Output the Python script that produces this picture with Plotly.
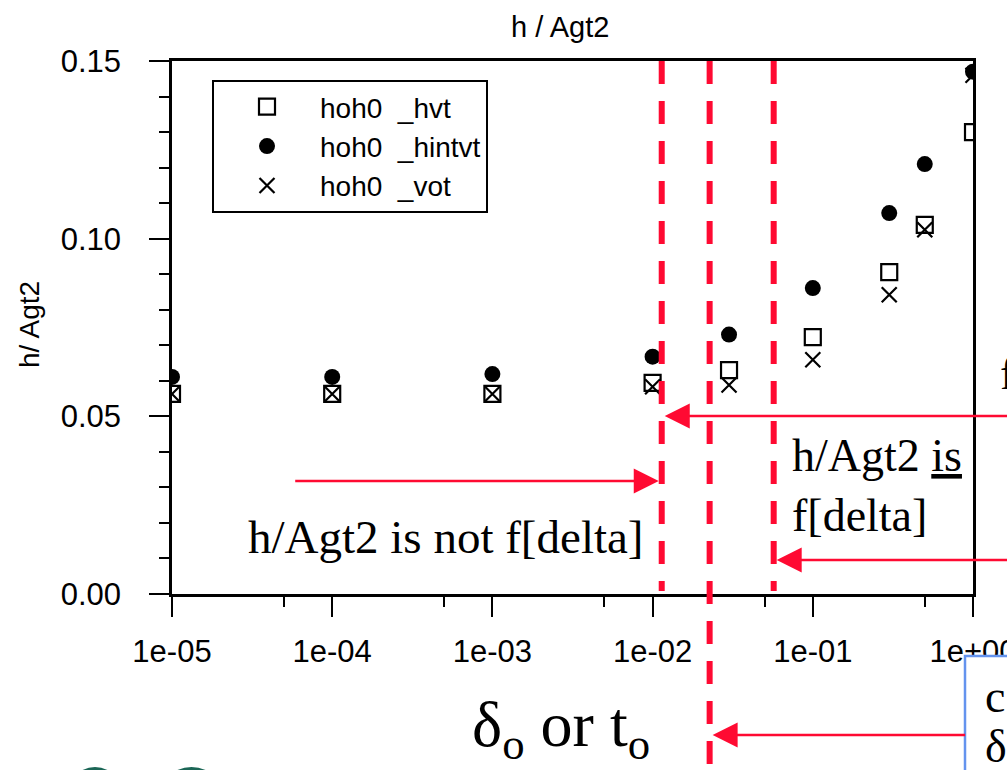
import math
import plotly.graph_objects as go

# ---------------- data ----------------
x_vals = [1e-5, 1e-4, 1e-3, 1e-2, 0.03, 0.1, 0.3, 0.5, 1.0]
hvt = [0.0563, 0.0563, 0.0563, 0.0594, 0.0630, 0.0723, 0.0906, 0.1039, 0.1300]
hintvt = [0.0611, 0.0611, 0.0619, 0.0668, 0.0730, 0.0861, 0.1072, 0.1210, 0.1470]
vot = [0.0563, 0.0563, 0.0563, 0.0583, 0.0588, 0.0659, 0.0842, 0.1025, 0.1460]
series_names = ["hoh0\u00a0 _hvt", "hoh0\u00a0 _hintvt", "hoh0\u00a0 _vot"]

x_tickvals = [1e-5, 1e-4, 1e-3, 1e-2, 1e-1, 1.0]
x_ticktext = ["1e-05", "1e-04", "1e-03", "1e-02", "1e-01", "1e+00"]
x_minor = [5e-5, 5e-4, 5e-3, 5e-2, 0.5]
y_tickvals = [0.0, 0.05, 0.10, 0.15]
y_ticktext = ["0.00", "0.05", "0.10", "0.15"]

delta_lines = [0.0114, 0.0227, 0.057]     # red dashed markers (x)
arrow_y = [0.0501, 0.0318, 0.0096]        # arrow heights (y, data units)

# ---------------- layout geometry ----------------
W, H = 1007, 770
L, R, T, B = 172, 973, 61, 594


def px(xp):
    return (xp - L) / (R - L)


def py(yp):
    return (B - yp) / (B - T)


RED = "#FF0A32"
BLUE = "#6493EE"
SANS = "Liberation Sans, Arial, sans-serif"
SERIF = "Liberation Serif, Times New Roman, serif"

fig = go.Figure()
fig.add_trace(go.Scatter(
    x=x_vals, y=hvt, mode="markers", name=series_names[0],
    marker=dict(symbol="square-open", size=16, color="black", line=dict(width=2.2, color="black"))))
fig.add_trace(go.Scatter(
    x=x_vals, y=hintvt, mode="markers", name=series_names[1],
    marker=dict(symbol="circle", size=16, color="black", line=dict(width=0))))
fig.add_trace(go.Scatter(
    x=x_vals, y=vot, mode="markers", name=series_names[2],
    marker=dict(symbol="x-thin-open", size=15, color="black", line=dict(width=2.2, color="black"))))

shapes = []
# dashed vertical lines
line_bottoms = [py(591), py(780), py(591)]
for xv, yb in zip(delta_lines, line_bottoms):
    shapes.append(dict(type="line", xref="x", yref="paper", x0=xv, x1=xv, y0=1.0, y1=yb,
                       line=dict(color=RED, width=6, dash="23px,17px"), layer="above"))
# blue text box (cropped)
shapes.append(dict(type="rect", xref="paper", yref="paper", x0=px(965), x1=px(1030),
                   y0=py(656), y1=py(800), line=dict(color=BLUE, width=2.5),
                   fillcolor="white", layer="above"))
# cropped picture fragments at the bottom left
for (a, b) in [(76, 114), (170, 213)]:
    m = (a + b) / 2
    shapes.append(dict(type="path", xref="paper", yref="paper",
                       path=f"M {px(a)},{py(774)} Q {px(m)},{py(760)} {px(b)},{py(774)} Z",
                       fillcolor="#1B6656", line=dict(width=0), layer="above"))

annotations = []
arrow_common = dict(text="", showarrow=True, arrowhead=2, arrowsize=2.0, arrowwidth=2.5,
                    arrowcolor=RED, standoff=0, startstandoff=0)
annotations.append(dict(x=math.log10(delta_lines[0]), y=arrow_y[0], xref="x", yref="y",
                        xshift=3, ax=400, ay=0, **arrow_common))
annotations.append(dict(x=math.log10(delta_lines[0]), y=arrow_y[1], xref="x", yref="y",
                        xshift=-3, ax=-365, ay=0, **arrow_common))
annotations.append(dict(x=math.log10(delta_lines[2]), y=arrow_y[2], xref="x", yref="y",
                        xshift=3, ax=300, ay=0, **arrow_common))
annotations.append(dict(x=math.log10(delta_lines[1]), y=py(735), xref="x", yref="paper",
                        xshift=3, ax=254, ay=0, **arrow_common))

# texts
annotations.append(dict(text="h/Agt2 is not f[delta]", xref="paper", yref="paper",
                        x=px(246), y=py(537), xanchor="left", yanchor="middle",
                        showarrow=False, font=dict(family=SERIF, size=47, color="black")))
annotations.append(dict(text='h/Agt2 <span style="text-decoration:underline">is</span><br>f[delta]',
                        xref="paper", yref="paper", x=px(790), y=py(485),
                        xanchor="left", yanchor="middle", align="left",
                        showarrow=False, font=dict(family=SERIF, size=46, color="black")))
annotations.append(dict(text="δ<sub>o</sub> or t<sub>o</sub>", xref="paper", yref="paper",
                        x=px(470), y=py(729), xanchor="left", yanchor="middle",
                        showarrow=False, font=dict(family=SERIF, size=64, color="black")))
annotations.append(dict(text="f", xref="paper", yref="paper", x=px(998), y=py(373),
                        xanchor="left", yanchor="middle", showarrow=False,
                        font=dict(family=SERIF, size=46, color="black")))
annotations.append(dict(text="c", xref="paper", yref="paper", x=px(983), y=py(696),
                        xanchor="left", yanchor="middle", showarrow=False,
                        font=dict(family=SERIF, size=46, color="black")))
annotations.append(dict(text="δ", xref="paper", yref="paper", x=px(983), y=py(746),
                        xanchor="left", yanchor="middle", showarrow=False,
                        font=dict(family=SERIF, size=46, color="black")))
# title and y-axis title
annotations.append(dict(text="h / Agt2", xref="paper", yref="paper", x=px(560), y=py(27),
                        xanchor="center", yanchor="middle", showarrow=False,
                        font=dict(family=SANS, size=29, color="black")))
annotations.append(dict(text="h/ Agt2", xref="paper", yref="paper", x=px(29), y=py(325),
                        xanchor="center", yanchor="middle", textangle=-90, showarrow=False,
                        font=dict(family=SANS, size=28, color="black")))

fig.update_layout(
    width=W, height=H,
    margin=dict(l=L, r=W - R, t=T, b=H - B, pad=0, autoexpand=False),
    paper_bgcolor="white", plot_bgcolor="white",
    showlegend=True,
    legend=dict(x=px(212), y=py(80), xanchor="left", yanchor="top",
                bgcolor="white", bordercolor="black", borderwidth=2,
                font=dict(family=SANS, size=28, color="black"),
                itemwidth=96, tracegroupgap=0),
    shapes=shapes,
    annotations=annotations,
    xaxis=dict(type="log", range=[-5, 0], tickmode="array", tickvals=x_tickvals,
               ticktext=x_ticktext, ticks="outside", ticklen=20, tickwidth=2,
               tickcolor="black", showline=True, linewidth=2.5, linecolor="black",
               mirror=True, showgrid=False, zeroline=False, ticklabelstandoff=8,
               ticklabeloverflow="allow", automargin=False,
               tickfont=dict(family=SANS, size=31, color="black"),
               minor=dict(tickmode="array", tickvals=x_minor, ticks="outside",
                          ticklen=10, tickwidth=2, tickcolor="black", showgrid=False)),
    yaxis=dict(range=[0, 0.15], tickmode="array", tickvals=y_tickvals, ticktext=y_ticktext,
               ticks="outside", ticklen=20, tickwidth=2, tickcolor="black",
               showline=True, linewidth=2.5, linecolor="black", mirror=True,
               showgrid=False, zeroline=False, ticklabelstandoff=22,
               ticklabeloverflow="allow", automargin=False,
               tickfont=dict(family=SANS, size=31, color="black"),
               minor=dict(dtick=0.01, tick0=0, ticks="outside", ticklen=10, tickwidth=2,
                          tickcolor="black", showgrid=False)),
)

fig.write_html("out.html")
